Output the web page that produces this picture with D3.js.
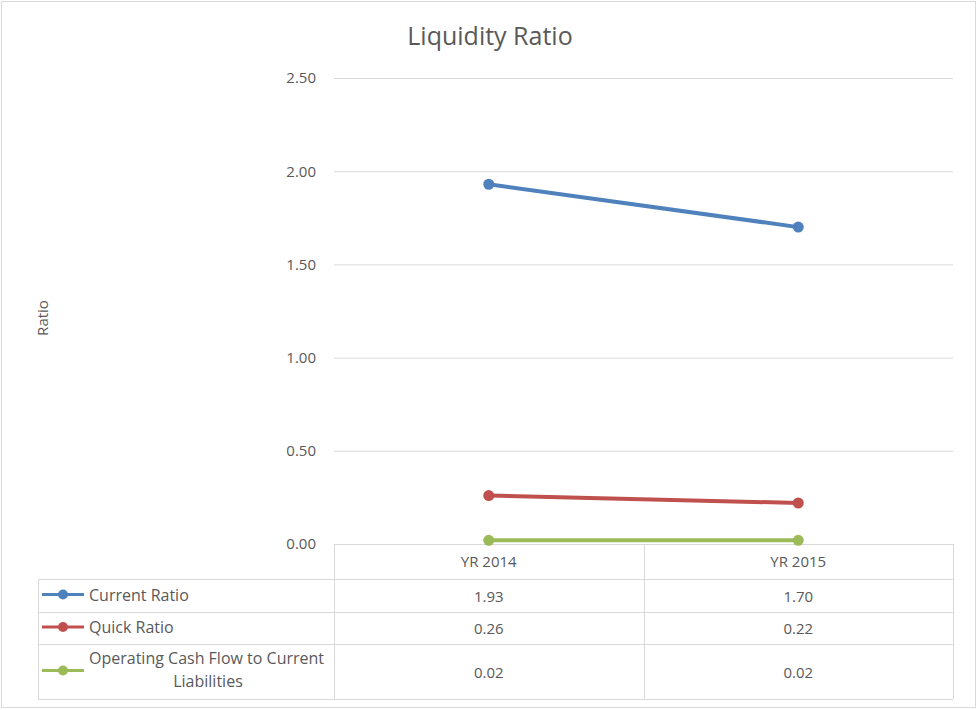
<!DOCTYPE html>
<html>
<head>
<meta charset="utf-8">
<style>
  body { margin: 0; background: #fff; }
  text { font-family: "Liberation Sans Narrow", "Open Sans", sans-serif; fill: #595959; }
</style>
</head>
<body>
<svg id="chart" width="978" height="710"></svg>
<script src="https://d3js.org/d3.v7.min.js"></script>
<script>
  const categories = ["YR 2014", "YR 2015"];
  const seriesNames = ["Current Ratio", "Quick Ratio", "Operating Cash Flow to Current Liabilities"];
  const currentRatio = [1.93, 1.70];
  const quickRatio = [0.26, 0.22];
  const cashFlowRatio = [0.02, 0.02];
  const yTicks = [0, 0.5, 1, 1.5, 2, 2.5];
  const colors = ["#4F81BD", "#C0504D", "#9BBB59"];

  const series = [currentRatio, quickRatio, cashFlowRatio];
  const svg = d3.select("#chart");
  const grid = "#D9D9D9";

  // outer chart border
  svg.append("rect")
      .attr("x", 1.5).attr("y", 1.5)
      .attr("width", 974).attr("height", 706)
      .attr("fill", "none").attr("stroke", grid);

  const x = d3.scaleBand().domain(categories).range([334, 953]);
  const y = d3.scaleLinear().domain([0, 2.5]).range([544, 78]);

  // title
  svg.append("text")
      .attr("x", 490).attr("y", 45)
      .attr("text-anchor", "middle")
      .style("font-size", "25px")
      .text("Liquidity Ratio");

  // y axis label
  svg.append("text")
      .attr("transform", "translate(48,318) rotate(-90)")
      .attr("text-anchor", "middle")
      .style("font-size", "15px")
      .text("Ratio");

  // gridlines + tick labels
  const yAxis = svg.append("g")
      .attr("transform", "translate(334,0)")
      .call(d3.axisLeft(y).tickValues(yTicks).tickFormat(d3.format(".2f"))
          .tickSize(-(953 - 334)).tickPadding(18));
  yAxis.select(".domain").remove();
  yAxis.selectAll("line").attr("stroke", grid);
  yAxis.selectAll("text").style("font-size", "15px").attr("fill", "#595959");
  yAxis.selectAll(".tick").filter(d => d === 0).select("line").remove();

  // data table
  const rowTops = [579, 612, 644, 699];
  const tbl = svg.append("g").attr("stroke", grid).attr("fill", "none");
  tbl.append("line").attr("x1", 334).attr("x2", 953).attr("y1", 544.5).attr("y2", 544.5);
  rowTops.forEach(t => {
    tbl.append("line").attr("x1", 38).attr("x2", 953).attr("y1", t + 0.5).attr("y2", t + 0.5);
  });
  tbl.append("line").attr("x1", 38.5).attr("x2", 38.5).attr("y1", 579).attr("y2", 699);
  [334, 644, 953].forEach(v => {
    tbl.append("line").attr("x1", v + 0.5).attr("x2", v + 0.5).attr("y1", 544).attr("y2", 699);
  });

  svg.selectAll(".cat")
      .data(categories)
      .enter().append("text")
      .attr("x", d => x(d) + x.bandwidth() / 2)
      .attr("y", 567)
      .attr("text-anchor", "middle")
      .style("font-size", "15px")
      .text(d => d);

  series.forEach((vals, i) => {
    const cy = (rowTops[i] + rowTops[i + 1]) / 2;
    // legend key
    svg.append("line")
        .attr("x1", 42).attr("x2", 84).attr("y1", cy - 1).attr("y2", cy - 1)
        .attr("stroke", colors[i]).attr("stroke-width", 3);
    svg.append("circle")
        .attr("cx", 63).attr("cy", cy - 1).attr("r", 5)
        .attr("fill", colors[i]);
    if (i < 2) {
      svg.append("text").attr("x", 89).attr("y", cy + 5)
          .style("font-size", "16px").text(seriesNames[i]);
    } else {
      svg.append("text").attr("x", 89).attr("y", cy - 8)
          .style("font-size", "16px").text("Operating Cash Flow to Current");
      svg.append("text").attr("x", 208).attr("y", cy + 15)
          .attr("text-anchor", "middle")
          .style("font-size", "16px").text("Liabilities");
    }
    // table values
    svg.selectAll(".v" + i)
        .data(vals)
        .enter().append("text")
        .attr("x", (d, j) => x(categories[j]) + x.bandwidth() / 2)
        .attr("y", cy + 6)
        .attr("text-anchor", "middle")
        .style("font-size", "15px")
        .text(d => d.toFixed(2));

    // line + markers
    const line = d3.line()
        .x((d, j) => x(categories[j]) + x.bandwidth() / 2)
        .y(d => y(d));
    svg.append("path")
        .datum(vals)
        .attr("d", line)
        .attr("fill", "none")
        .attr("stroke", colors[i])
        .attr("stroke-width", 4)
        .attr("stroke-linecap", "round");
    svg.selectAll(".m" + i)
        .data(vals)
        .enter().append("circle")
        .attr("cx", (d, j) => x(categories[j]) + x.bandwidth() / 2)
        .attr("cy", d => y(d))
        .attr("r", 5.5)
        .attr("fill", colors[i]);
  });
</script>
</body>
</html>
